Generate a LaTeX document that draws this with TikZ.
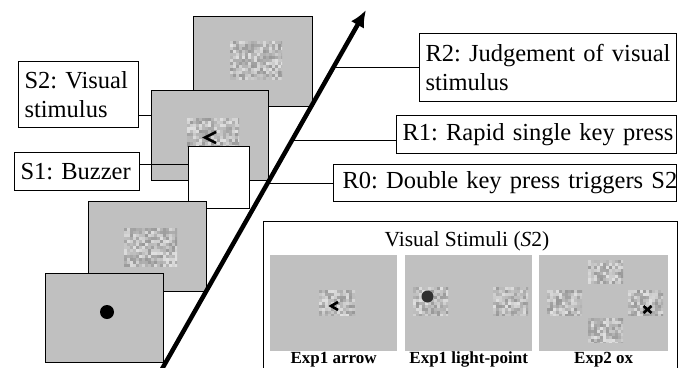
\documentclass[tikz,border=0pt]{standalone}
\usepackage{fontspec}
\setmainfont{Liberation Serif}
\usetikzlibrary{arrows.meta,calc}
\frenchspacing

\definecolor{framegray}{HTML}{C0C0C0}
\definecolor{dotgray}{HTML}{303030}

\tikzset{
  frame/.style={draw, fill=framegray, line width=1pt, inner sep=0pt, anchor=north west},
  screen/.style={fill=framegray, inner sep=0pt, anchor=north west},
  lab/.style={draw, fill=white, line width=1pt, inner xsep=6pt, inner ysep=1pt,
    anchor=north west, align=left, font=\fontsize{24.5}{29.5}\selectfont},
  captext/.style={anchor=base, font=\bfseries\fontsize{17}{20}\selectfont},
  link/.style={line width=1pt},
  chev/.style={line width=2.6pt},
  timeline/.style={line width=4.5pt, -{Latex[length=17pt,width=15pt]}}
}

% noisy stimulus patch: #1,#2 top left, #3,#4 bottom right
\newcommand{\noisepatch}[4]{%
  \begin{scope}
    \clip (#1,#2) rectangle (#3,#4);
    \pgfmathtruncatemacro{\nx}{(#3-#1)/3}
    \pgfmathtruncatemacro{\ny}{(#4-#2)/3}
    \foreach \i in {0,...,\nx} {
      \foreach \j in {0,...,\ny} {
        \pgfmathrandominteger{\g}{60}{88}
        \fill[white!\g!black] ({#1+3*\i},{#2+3*\j}) rectangle ++(3,3);
      }
    }
  \end{scope}}

\begin{document}
\begin{tikzpicture}[x=1pt, y=-1pt]
    \pgfmathsetseed{12}
    \useasboundingbox (0,0) rectangle (685,367);

    % Screens of one trial, back to front
    \node[frame, minimum width=119pt, minimum height=90pt] (f4) at (193,16) {};
    \noisepatch{230}{41}{282}{79}
    \node[frame, minimum width=117pt, minimum height=90pt] (f3) at (151,90) {};
    \noisepatch{187}{118}{239}{146}
    \draw[chev] (216,132) -- (205,137.5) -- (216,143);
    \node[frame, fill=white, minimum width=61pt, minimum height=62pt] (buzz) at (188,146) {};
    \node[frame, minimum width=118pt, minimum height=90pt] (f2) at (88,201) {};
    \noisepatch{124}{228}{177}{266}
    \node[frame, minimum width=118pt, minimum height=89pt] (f1) at (45,273) {};
    \fill (107,312) circle (7pt);

    % Time arrow
    \coordinate (tail) at (162,369);
    \coordinate (head) at (366,10);
    \draw[timeline] (tail) -- (head);
    \coordinate (a2) at ($(tail)!0.841!(head)$);
    \coordinate (a1) at ($(tail)!0.638!(head)$);
    \coordinate (a0) at ($(tail)!0.5195!(head)$);

    % Labels
    \node[lab, text width=108pt, minimum height=66pt] (s2lab) at (18,61) {\mbox{S2: Visual}\\\mbox{stimulus}};
    \node[lab, text width=113pt, minimum height=38pt] (s1lab) at (14,152) {\mbox{S1: Buzzer}};
    \node[lab, text width=245pt, minimum height=68pt] (r2) at (419,33) {\mbox{R2: Judgement of visual}\\\mbox{stimulus}};
    \node[lab, text width=268pt, minimum height=38pt] (r1) at (396,115) {\mbox{R1: Rapid single key press}};
    \node[lab, text width=325pt, minimum height=37pt, inner xsep=9pt] (r0) at (333,164) {\mbox{R0: Double key press triggers S2}};

    \draw[link] ([yshift=-21pt]s2lab.east) -- ([yshift=-21pt]s2lab.east -| f3.west);
    \draw[link] ([yshift=7pt]s1lab.east) -- ([yshift=7pt]s1lab.east -| buzz.west);
    \draw[link] (r2.west) -- (r2.west -| a2);
    \draw[link] ([yshift=-6pt]r1.west) -- ([yshift=-6pt]r1.west -| a1);
    \draw[link] (r0.west) -- (r0.west -| a0);

    % Visual stimuli panel
    \draw[link] (263,370) |- (677,221) -- (677,370);
    \node[font=\fontsize{21.5}{25}\selectfont] (title) at (467,241) {Visual Stimuli (\textit{S}2)};

    \node[screen, minimum width=127pt, minimum height=96pt] (p1) at (270,255) {};
    \node[screen, minimum width=127pt, minimum height=96pt] (p2) at (405,255) {};
    \node[screen, minimum width=129pt, minimum height=96pt] (p3) at (539,255) {};

    \noisepatch{319}{290}{355}{315}
    \draw[chev] (338,302) -- (331,306) -- (338,310);

    \noisepatch{413}{287}{448}{315}
    \noisepatch{493}{287}{528}{315}
    \fill[dotgray] (427.5,296.5) circle (6pt);

    \noisepatch{588}{260}{623}{283}
    \noisepatch{547}{290}{582}{315}
    \noisepatch{628}{290}{663}{315}
    \noisepatch{588}{318}{623}{342}
    \draw[chev] (643.5,306) -- (651.5,313) (643.5,313) -- (651.5,306);

    \node[captext] (c1) at (p1.south |- 0,363) {Exp1 arrow};
    \node[captext] (c2) at (p2.south |- 0,363) {Exp1 light-point};
    \node[captext] (c3) at (p3.south |- 0,363) {Exp2 ox};

\end{tikzpicture}
\end{document}
